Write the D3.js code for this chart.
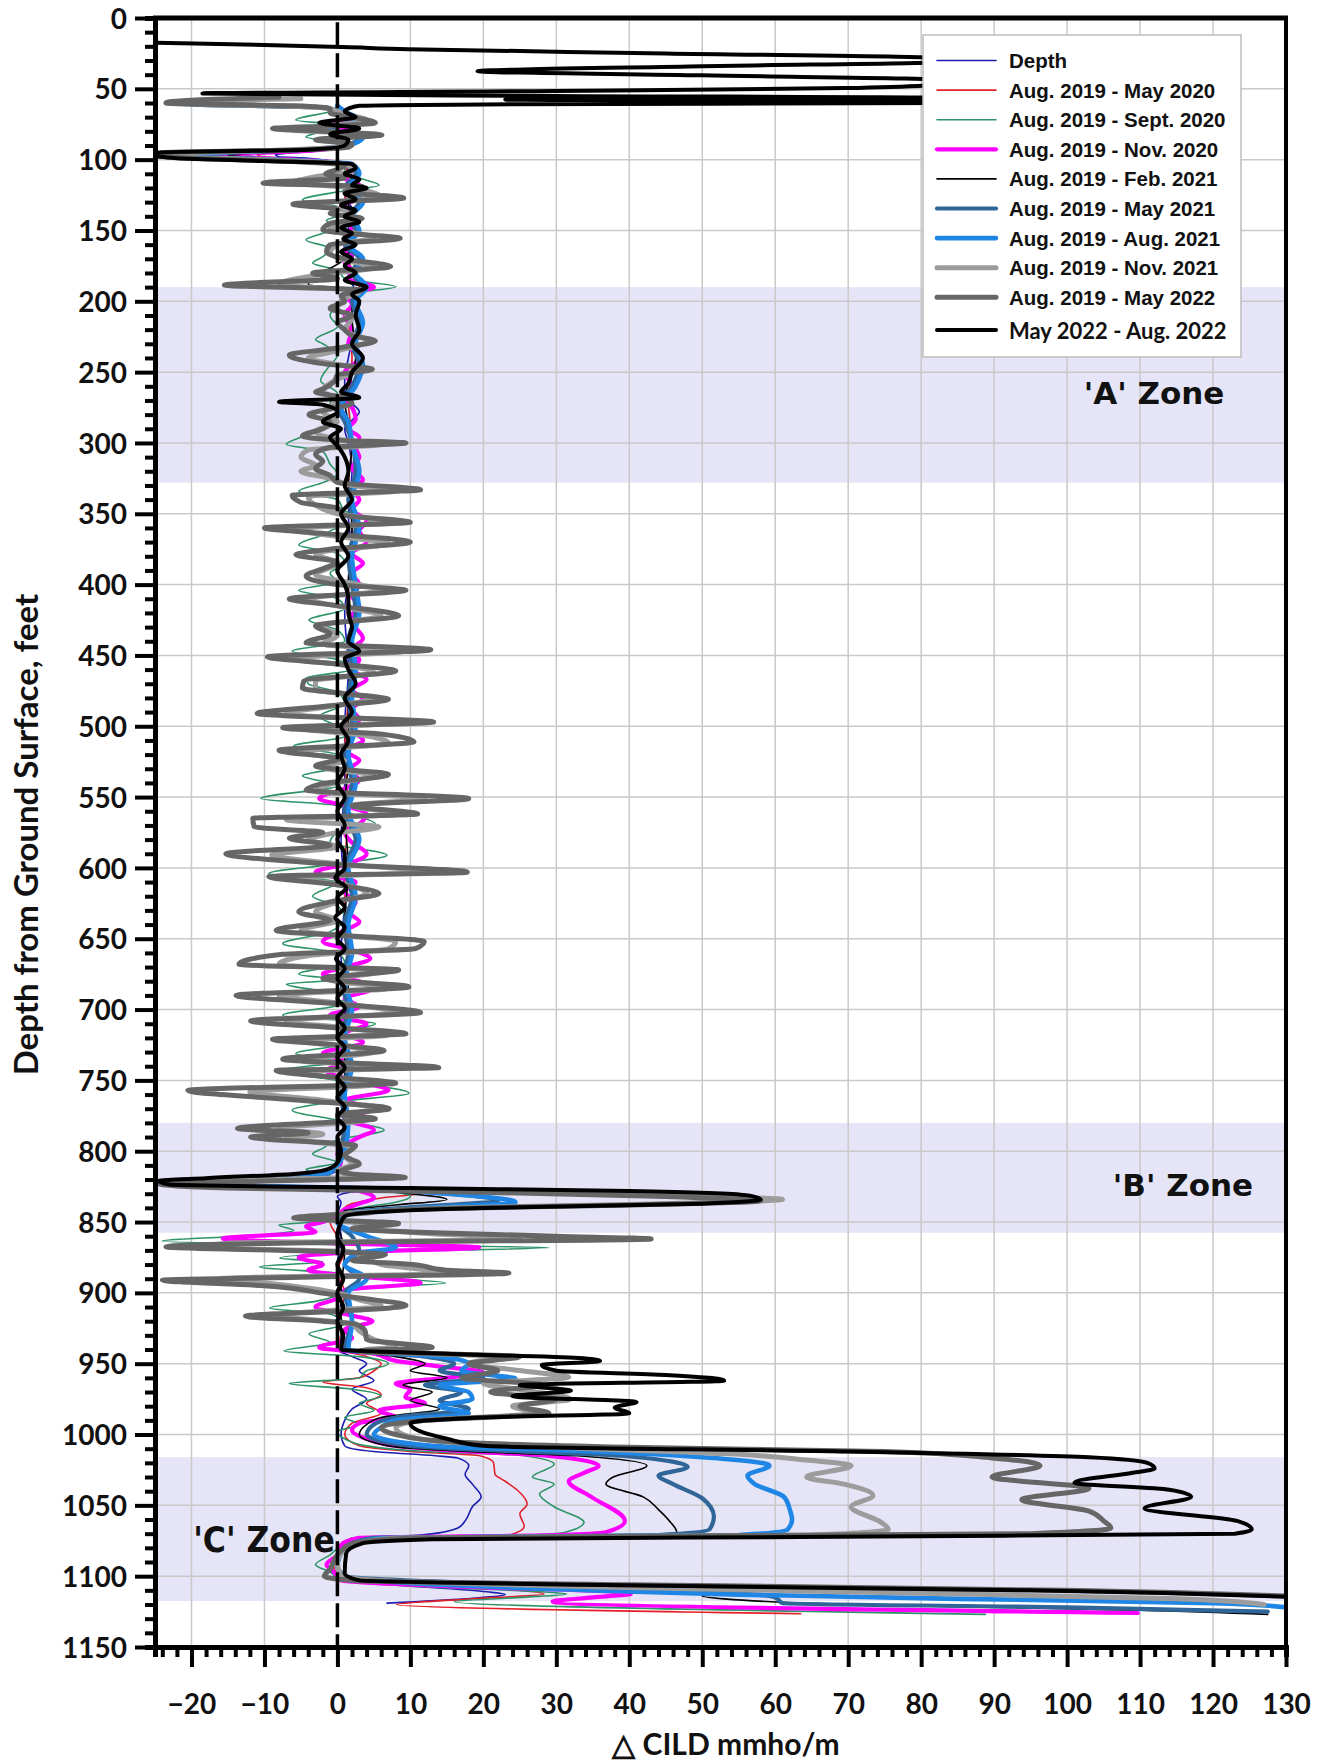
<!DOCTYPE html>
<html><head><meta charset="utf-8">
<script src="https://cdn.jsdelivr.net/npm/d3@7"></script>
<style>body{margin:0;background:#fff;} svg{display:block;}</style>
</head><body><svg id="c" width="1325" height="1760"></svg>
<script>
// ---------- DATA (depth ft, ΔCILD mmho/m) ----------
const xTicks = [-20,-10,0,10,20,30,40,50,60,70,80,90,100,110,120,130];
const yTicks = [0,50,100,150,200,250,300,350,400,450,500,550,600,650,700,750,800,850,900,950,1000,1050,1100,1150];
const zoneNames = ["'A' Zone","'B' Zone","'C' Zone"];
const zoneTop = [190, 780, 1016];
const zoneBottom = [328, 857.6, 1117.5];

const seriesNames = ["Depth","Aug. 2019 - May 2020","Aug. 2019 - Sept. 2020","Aug. 2019 - Nov. 2020","Aug. 2019 - Feb. 2021","Aug. 2019 - May 2021","Aug. 2019 - Aug. 2021","Aug. 2019 - Nov. 2021","Aug. 2019 - May 2022","May 2022 - Aug. 2022"];

const depthSeries = [[64,0.5],[70,1],[78,0],[85,1.5],[91,0.5],[94,-3],[96.5,-8.5],[98,-8],[99,-4],[101,-1],[104,1],[115,2],[125,1],[135,2],[150,1.5],[165,2],[180,1.5],[195,2.5],[210,1.5],[225,2],[240,1.5],[255,1],[265,1],[272,2],[278,3],[284,2],[290,1],[300,1.5],[320,2],[350,1.5],[380,2],[420,1],[460,1.5],[500,1],[540,1],[580,0.5],[620,1],[660,0.5],[700,1],[740,0.5],[780,1],[810,0.5],[818,-2],[822,-15],[824,-8],[826,8],[828,3],[832,0],[836,0.5],[845,0],[860,0.5],[880,0],[900,0.5],[940,0],[945,2],[950,4],[955,3],[962,5],[968,2],[975,4],[982,2],[990,1],[1000,0.5],[1008,1],[1012,5],[1015,13.4],[1016.5,16.5],[1022,18],[1028,17.5],[1035,18.5],[1044,19.7],[1051,18.5],[1061,17.5],[1066,16.5],[1071,11.4],[1073,2.2],[1079,0.7],[1093,0.2],[1100,0.7],[1105,5.3],[1111,20.5],[1113,23],[1116,17.5],[1119,6.8]];

const may2020 = [[64,0.5],[72,1.5],[80,0],[88,1],[92,0],[94,-4],[96.5,-11],[98,-10],[100,-4],[103,1],[115,1.5],[130,1],[150,2],[170,1.5],[190,3],[210,1.5],[240,2],[270,1.5],[300,2],[330,1.5],[360,2],[400,1.5],[440,2],[480,1.5],[520,1],[560,1.5],[600,1],[640,1],[680,1.5],[720,1],[760,1],[800,0.5],[815,-1],[820,-8],[823,-22],[826,0],[829,12.6],[833,6],[837,2],[842,0.5],[850,-1],[860,0],[870,1],[885,0],[900,1],[920,0],[940,0.5],[945,4],[950,6],[955,5],[960,3],[963,-2],[967,4],[972,6],[978,4],[985,6],[992,2],[1000,1],[1008,3],[1012,10],[1015,19.5],[1020,21.4],[1028,21.6],[1033,23],[1039,24.6],[1049,26],[1056,25],[1065,25.6],[1071,23.6],[1073,2],[1080,0.5],[1093,-0.5],[1100,0.5],[1105,8],[1111,27],[1112.5,28.3],[1115,22],[1118,12],[1120,8.1],[1126.5,63.5]];

const sept2020 = [[62,0],[66,-1],[72,-5.7],[76,1],[80,-2],[84,-4.3],[88,0],[91,0.5],[94,-5],[96,-13],[98,-11],[100,-5],[103,1],[108,1],[113,3],[118,5.7],[122,1],[128.5,-4.8],[133,0],[138,1],[143,-1.5],[147.7,0],[152,-2],[156.7,-4.3],[162.6,-1],[168.5,-2],[173,-3.4],[178,0],[184,1],[189.7,8],[195,1],[202,0],[210,-1],[218,0],[227,-3],[230,-2],[238,0],[245,-1],[256,-2.3],[265,0],[272,-1],[280,0],[290,-2],[296,-5],[301,-7],[306,-2],[315,-1],[322,0],[328,-2],[334,-5.3],[340,0],[348,1],[355,4.8],[360,0],[365,-2],[372,-5.3],[378,0],[385,1],[392,-1],[398,0],[404,-5.3],[410,0],[417,1],[425,-3.9],[432,0],[440,1],[447,-6.2],[453,0],[460,2],[466,-4.3],[470,-4],[476,0],[484,1],[493,-2.5],[500,0],[507,1],[514,-6],[520,0],[528,1],[535,-4.8],[542,0],[551,-10.5],[556,0],[562,2],[569,5.2],[575,0],[582,-1],[591,6.8],[597,0],[604,-9.4],[610,0],[620,-3.4],[627,0],[635,1],[645,-1],[653.5,-7.5],[660,0],[667,1],[675,-5.3],[679,0],[682,-7],[690,1],[697,0],[704,-7.5],[710,5.2],[717,0],[724,1],[731,-5.7],[737,0],[743,-8.2],[750,0],[759,9.8],[765,0],[771,-6.2],[778,0],[785,6.4],[792,0],[798,-2],[802,-3.4],[808,0],[813,-4.3],[817,-1],[820,-8],[822,-24],[825,-5],[828,6],[832,10],[836,8],[840,3],[845,1],[850,-3],[852,-8],[856,-6],[859,-10],[863.5,-24],[866,0],[868,29],[871,5],[875.6,-7.9],[878,-2],[881.5,-10.7],[886,0],[889,5],[893,14.8],[897,2],[902,0],[906,-3],[910.6,-9.3],[915,-1],[922,1],[929,-3.9],[935,-1],[941,-7.3],[945,3],[950,7],[955,4],[960,3],[964,-6.6],[968,2],[973,6],[978,3],[983,5],[988,1],[993,3],[998,0],[1003,1],[1008,4],[1012,12],[1015,25.6],[1021,29.7],[1030,26.7],[1035,29.7],[1042,27.7],[1051,29.7],[1062,33.8],[1069,31.2],[1071,26],[1073,2],[1078,0.5],[1085,-1],[1092,-3],[1097,-1],[1103,0.5],[1107,10],[1111,28],[1112.5,31.4],[1115,25],[1118,16],[1127,88.8]];

const nov2020 = [[62,0],[66,1],[72,2],[76,-1],[80,2],[84,0],[88,1],[91,0],[94,-5],[96.5,-17],[98,-14],[100,-6],[103,1.5],[108,2],[113,1],[118,3],[123,1],[128,2.5],[133,0.5],[138,2],[143,1],[148,2],[153,1],[158,2.5],[163,1],[168,2],[173,1],[178,2],[184,1.5],[190,5],[195,1],[202,2],[210,1],[220,2],[230,1.5],[240,3],[250,1],[260,2],[268,1],[275,2],[283,2.5],[290,1.5],[296,3],[303,2.5],[310,3],[318,2],[326,3.5],[333,2],[340,3],[347,2],[355,4],[362,3],[370,4],[378,2],[385,3.5],[392,2],[400,3],[408,2],[415,3],[422,2],[430,2.5],[438,3.5],[446,2],[453,3],[460,2],[467,4],[474,2],[481,3.5],[488,2],[495,3],[502,2],[510,3.5],[517,1],[524,3],[531,1.5],[538,3],[544,1],[551,-2.5],[556,1],[562,4],[569,3],[575,1],[582,2],[590,4],[597,1.5],[603,-3],[610,2.5],[617,1],[624,2.5],[631,1.5],[638,3],[644,1],[652,-2],[658,2],[664,4.5],[670,1],[675,-2],[680,3],[686,4.5],[692,1],[698,3],[704,-1],[710,4],[717,1],[723,3.5],[731,-2],[737,1],[743,-1.5],[750,2],[757,7],[764,1],[770,5],[777,1],[785,5],[790,3],[796,1],[802,0],[808,0.5],[814,-1],[818,-3],[821,-12],[823,-24],[825,-10],[828,3],[833,5],[837,3],[841,1],[846,0],[850,-2],[853,-4.3],[857,-3],[861.6,-15.7],[865,0],[868,19.4],[871,3],[875,-5.3],[880,-2],[884,-4],[888,2],[893,11.4],[898,1],[904,0],[910,-3],[916,2],[920,4.8],[926,1],[932,2],[938.5,-2.5],[943,5],[948,8],[952,14],[956,20],[960,14.8],[964,8],[968,10],[973.5,9.3],[978,12],[983,5.7],[988,8],[992,3],[997,2],[1003,4],[1008,8],[1012,18],[1015,28.7],[1022,35.8],[1027,33.8],[1033,31.7],[1044,34.8],[1061,39.4],[1069,36.8],[1071,30],[1073,3],[1078,0.5],[1085,0],[1092,-1.5],[1097,-0.5],[1103,0.5],[1107,15],[1111,38],[1112.5,40.2],[1115,35],[1118,29.5],[1126,109.7]];

const feb2021 = [[64,0.5],[72,2],[80,-1],[88,1.5],[92,0.5],[94,-5],[96.5,-15],[98,-13],[100,-6],[103,1.5],[115,2],[130,1.5],[150,2.5],[170,1],[188,-4],[192,2],[210,2],[240,2.5],[270,1],[300,2],[330,1.5],[360,2],[400,1.5],[440,2],[480,1.5],[520,1.5],[560,1],[600,1.5],[640,1],[680,1.5],[720,1],[760,1],[800,0.5],[815,-1],[820,-10],[823,-24],[826,0],[830,10],[834,15],[838,8],[842,1],[850,0],[870,1],[900,0.5],[940,0.5],[945,8],[950,12],[955,10],[960,15],[965,9],[970,13],[976,10],[982,14],[988,6],[993,4],[1000,3],[1008,7],[1012,18],[1015,32.8],[1022,42.4],[1030,37.8],[1035,36.8],[1044,41.9],[1053,44],[1061,45.5],[1069,46.5],[1071,40],[1073,4],[1080,1],[1093,0],[1100,1],[1105,15],[1110,45],[1112,52],[1114,50],[1116,53],[1120,70],[1124,110],[1127,127.5]];

const may2021 = [[60,-23.5],[61.5,-18],[63,-3],[66,0.5],[72,2.5],[78,-1],[84,3],[90,1],[93,-5],[96.5,-20],[98,-18],[100,-8],[103,1.5],[110,2.5],[120,1],[130,3],[140,1.5],[150,2.5],[160,1],[170,3],[180,2],[190,3.5],[200,2],[215,3],[230,2],[245,3],[260,2],[275,0],[285,1],[300,2],[320,2.5],[340,1.5],[360,2.5],[380,1.5],[400,2],[420,2.5],[440,1.5],[460,2],[480,1.5],[500,2],[520,1],[540,2],[560,1],[580,2.5],[600,1],[620,2],[640,1],[660,1.5],[680,0.5],[700,1.5],[720,0.5],[740,1.5],[760,0.5],[780,1],[800,0.5],[815,-1],[820,-12],[823,-24],[826,0],[830,15],[835,22],[839,12],[843,2],[850,0],[860,2],[870,3],[880,1],[890,3],[900,1],[920,2],[940,1],[945,12],[950,16],[955,14],[960,20],[965,12],[970,17],[976,14],[982,18],[988,8],[993,5],[1000,4],[1008,10],[1012,25],[1015,38.9],[1023,48],[1029,44],[1035,46],[1045,50],[1058,51.6],[1067,51],[1071,44],[1073,5],[1080,1],[1093,0],[1100,1],[1105,20],[1109,45],[1112,55],[1115,60],[1119,61],[1122,100],[1125,127.5]];

const aug2021 = [[62,0],[66,1],[72,3],[78,-1.5],[84,3.5],[90,1.5],[93,-5],[96.5,-22],[98,-20],[100,-9],[103,2],[110,3],[120,1.5],[130,3.5],[140,2],[150,3],[160,1.5],[170,3.5],[180,2.5],[190,4],[200,2.5],[215,3.5],[230,2.5],[245,3.5],[260,2.5],[275,0.5],[285,1.5],[300,2],[320,3],[340,2],[360,3],[380,2],[400,2.5],[420,3],[440,2],[460,2.5],[480,2],[500,2.5],[520,1.5],[540,2.5],[560,1.5],[580,3],[600,1.5],[620,2.5],[640,1.5],[660,2],[680,1],[700,2],[720,1],[740,2],[760,1],[780,1.5],[800,1],[815,-1],[820,-14],[823,-24],[826,2],[830,15],[836,24.4],[840,12],[844,2],[850,0],[860,4],[868,8],[872,3],[880,1],[890,4],[900,1.5],[920,2],[940,1.5],[945,14],[950,18],[955,17],[960.7,24.4],[965,14],[970,18],[975,18.5],[980,14],[985,18],[990,8],[995,6],[1000,5],[1008,13],[1012,35],[1016,50],[1022,59.2],[1029,56.2],[1035,57.2],[1044,61.2],[1053,62],[1060,62.3],[1067,61.7],[1071,55],[1073,6],[1080,1],[1093,0],[1100,1],[1105,10],[1110,35],[1113,55],[1116,85],[1119,120],[1122,130]];

const nov2021 = [[57,-5],[60,-22],[62,-8],[64,-1],[68,1],[72,4],[76,-1],[79,-6],[82,4],[86,-1],[90,2],[93,-6],[96,-24],[98,-23],[100,-10],[103,1],[108,2],[112,-3],[116,-6],[120,2],[127,6],[131,-3],[136,1],[142,2],[148,-1],[155,5],[160,0],[166,-1],[171,1],[176,5],[181,-2],[188,-8],[193,3],[198,1],[205,0],[212,2],[220,1],[228,4],[235,0],[240,-4],[248,3],[255,0],[263,-2],[270,0],[278,-2],[285,0],[292,-3],[298,1],[301,6],[305,-4],[310,-5],[316,-3],[320,-5],[325,-1],[330,2],[334,8],[338,-4],[344,-3],[350,0],[356,7],[361,-6],[366,0],[371,7],[378,-3],[385,0],[393,-3],[398,1],[404,6],[410,-4],[416,1],[422,6],[429,-2],[436,0],[442,-2],[447,9],[452,-6],[457,1],[462,5],[468,-3],[474,-3],[480,5],[486,-1],[491,-7],[497,9],[502,-4],[506,3],[512,7],[518,-5],[524,1],[529,-2],[535,5],[541,-1],[546,-3],[551,12],[556,2],[562,8],[566,-7],[571,5.7],[576,-1],[580,-4],[585,0],[591,-9],[597,0],[603,12],[607,-6],[612,1],[618,4],[624,0],[631,-3],[637,0],[644,-5],[652,8],[657,7],[662,-4],[668,-8],[673,6],[679,-1],[685,7],[690,-8],[696,1],[702,8],[708,-7],[713,1],[718,7],[722,-5],[726,1],[730,5],[736,-5],[741,9],[744,-5],[749,1],[753,5],[758,-12],[764,-2],[770,5],[775,1],[778,4],[784,-8],[788,-2],[791,-7],[797,2],[803,1],[809,2],[814,0],[818,3],[820,-10],[822.5,-24.5],[826,-5],[829,25],[832,50],[834,61],[837,45],[840,15],[843,4],[847,-3],[851,3],[855,5],[858,12],[862,25],[865,-15],[868,-18],[871,2],[875,4],[880,6],[886,15],[890,-16],[894,-8],[900,0],[905,3],[909,6],[916,-8],[922,2],[927,3],[933,5],[938,8],[941,3],[945,22],[950,18],[955,25.3],[959.6,31.7],[964,20],[969,26],[975,32],[980,24],[985,27],[990,12],[995,8],[1000,9],[1005,14],[1010,35],[1014,55],[1018,64.3],[1022,70.4],[1030,64.3],[1035,69.4],[1043,73.4],[1051,70.4],[1062,74.5],[1067,75.5],[1071,65],[1073,8],[1078,2],[1090,0],[1100,0.5],[1104,10],[1108,40],[1112,80],[1116,115],[1120,127]];

const may2022 = [[56,-8],[58,-20],[60,-23.5],[62,-6],[64,-1],[67,-1],[70,2],[74,5.2],[76,0],[78,-8.9],[80,-2],[82.6,6.1],[86,-3],[89,2],[91,1.6],[93,-5],[95,-24],[97,-25],[99,-20],[101,-8],[104,1],[107,0],[110,-1.6],[113,1],[116.5,-10.2],[119,3.4],[123,1],[127,9.1],[131.4,-6.1],[135,0],[138,-1],[141.5,3.4],[145,-1],[149.7,-2],[152,1],[155.5,8.6],[160,-1],[165,-1.5],[170,1],[175.5,7.3],[180,-3.4],[184,0],[188.5,-15.5],[192,3.4],[196,0.5],[200,1],[205,-1],[210,2],[215,0],[220,1],[224,2],[228,5.2],[233,0],[238,-6.6],[244,-2],[248,4.8],[252,0],[257,-0.5],[262,-2],[264,-3],[268,1],[272,2],[276,-1],[280,-3.9],[285,-1],[290,-2],[295,-4.8],[298,0],[300,9.4],[303,-1],[308,-3],[313,-2],[318,-3],[323,-1],[328,0],[333,11.4],[337,-6.2],[342,-5],[346,0],[351,1],[356,10],[360,-10],[364,-1.6],[370,10],[375,-1],[379,-5.7],[384,0],[388,-1.6],[394,-4.3],[400,0],[404,9.4],[410,-6.6],[415,0.2],[422,8.4],[429,-3],[435,-1],[441,-4.3],[446,12.8],[451,-9.6],[456,0],[461,8],[468,-4.6],[473,-4.8],[477,1],[481,7],[486,-2],[491,-11],[497,13.2],[501,-7.5],[505,4.8],[511,10.5],[517,-8],[523,0.2],[528,-3],[534,7],[541,-2.5],[545,-4.3],[551,18],[556,2],[562,11],[565,-11.6],[571,-11.4],[575,-2],[579,-6.6],[584,-1],[590,-15.3],[597,-1.6],[603,17.8],[606,-9.4],[612,0],[618,5.7],[624,-1],[631,-5.3],[637,-1],[644,-8.4],[652,11.9],[657,10.7],[661,-7.5],[668,-13.5],[672,8.4],[678,-2],[684,9.8],[690,-13.9],[696,0],[702,11.4],[708,-11.9],[713,0],[717,9.4],[721,-8.9],[725,0],[729,6.4],[735,-7.5],[741,13.9],[743,-8.4],[748,0],[752,8],[757,-20.5],[764,-5.2],[770,7.1],[774,0],[777,5.2],[784,-13.7],[787,-4],[790,-11.9],[796,2.5],[803,1],[809,3],[814,0.5],[816,2],[818.5,9.3],[821,-10],[823,-24.5],[826,-15],[829,20],[832,45],[835,58],[838,40],[841,10],[844,3],[847,-6],[851,8.4],[854.7,2],[857,10],[860,30],[862,43],[864,5],[867.5,-23.5],[871,0],[873,6.6],[877,2],[880,10.3],[884,15],[886,23.5],[889,-5],[891,-24],[895,-10],[901,-1],[903.6,3],[909,9.4],[913,0],[916.4,-12.6],[920,-2],[922,2.5],[927,3.8],[933,4],[938.6,13],[941,3],[945,25],[950,18],[955,22],[960,17],[965,28],[970,21],[975,30],[980,25],[985,29],[990,12],[995,6],[1000,8],[1005,15],[1009,40],[1012,75],[1016.5,89.7],[1022,96.3],[1030,89.7],[1038,103],[1046,93.8],[1054,103],[1061,105],[1066,106],[1070,95],[1073,10],[1077,2],[1085,0],[1095,-1],[1100,-1.8],[1103,2],[1106,40],[1110,100],[1114,130]];

const aug2022 = [[17.5,-24.8],[19,-10],[20.5,0.8],[22,9.7],[25,45],[28.5,84],[31,84],[34,50],[37.6,19.2],[40.5,50],[43.8,84],[46,84],[49.5,69.6],[51.5,30],[53.3,-18.5],[55,30],[56.3,84],[57.6,23],[59,84],[60,84],[61,20],[62,3],[64,1.5],[66,1],[70,2.5],[74,-2.5],[78,3],[82,-1],[86,1.5],[90,1],[93,-4],[95,-24.8],[97,-25],[99,-22],[101,-10],[103,2],[106,2.5],[110,1],[114,3],[118,2],[120,4],[124,1],[128,2.5],[132,0.5],[136,2.5],[140,1],[144,3],[148,0.5],[152,2],[156,0.8],[160,2.5],[165,0.5],[170,2],[175,1],[180,2.5],[185,1],[190,4],[195,2],[200,3],[210,2.5],[220,3],[230,2],[240,3.5],[250,2],[258,1.5],[264,0.5],[268,3],[271,-8],[273,-2],[278,0],[285,-2],[290,0.5],[296,-1],[302,0],[310,1],[320,1.5],[330,1],[340,2],[350,0.5],[360,1.5],[370,0.5],[380,1.5],[390,0],[400,1],[410,1.5],[420,1.5],[430,2],[440,1.5],[447,3],[452,1],[460,1.5],[470,2.5],[480,1],[490,2],[500,0.5],[510,1.5],[520,0.5],[530,1],[540,0],[550,1],[560,0],[570,1],[580,0],[590,1],[600,1],[607,-0.3],[614,1.2],[621,0],[628,1],[635,-0.3],[642,1],[650,0],[657,1],[664,-0.2],[671,1],[678,0],[685,1],[692,0],[699,1],[706,0],[713,1],[720,0],[727,1],[734,0],[741,1],[748,0],[755,1],[762,0],[769,1],[776,0],[783,1],[790,0],[800,0.5],[808,0],[813,-1.5],[816,-6],[819,-18],[821,-24.5],[823.5,-23],[826,10],[828,40],[831,56],[834,58],[837,50],[840,20],[843,5],[846,1],[850,0.5],[860,0],[870,0.8],[880,0],[890,0.8],[900,0],[910,0.8],[920,0],[930,0.8],[940,0.5],[943,15],[946,33],[948,36],[951,28],[955,30],[958,45],[962,53],[965,25],[969,32],[973,24],[977,41],[981,38],[985,40],[988,20],[992,10],[997,11],[1003,15],[1008,20],[1012,70],[1016,103],[1020,111],[1024,112],[1027,109],[1034,101],[1039,114],[1044,117],[1052,110.6],[1061,123.3],[1067,125.3],[1070,123],[1072,74],[1074,13],[1077,3.3],[1084,1.2],[1098,1],[1103,3],[1106,33.8],[1110,94.8],[1114.5,130]];

const seriesData = [depthSeries, may2020, sept2020, nov2020, feb2021, may2021, aug2021, nov2021, may2022, aug2022];
const seriesColors = ["#1c1cb0","#e3202a","#2e9468","#ff00ff","#000000","#2f6597","#1f86e6","#9c9c9c","#666666","#000000"];
const seriesWidths = [1.6,1.6,1.6,4.2,1.6,4.2,4.6,5,5,4];

// ---------- CHART ----------
const svg = d3.select("#c");
const L = 155, R = 1286, T = 18, B = 1647;
const x = d3.scaleLinear().domain([-25,130]).range([L,R]);
const y = d3.scaleLinear().domain([0,1150]).range([T,B]);
const lblFont = "Lato, 'Open Sans', sans-serif";

// zone bands
svg.append("g").selectAll("rect").data(zoneTop).join("rect")
  .attr("x", L).attr("width", R-L)
  .attr("y", d=>y(d)).attr("height", (d,i)=>y(zoneBottom[i])-y(d))
  .attr("fill", "#e5e5f7");

// gridlines
const grid = svg.append("g").attr("stroke","#c9c9c9").attr("stroke-width",1.5);
grid.selectAll(".v").data(xTicks.filter(v=>v!==0 && v!==130)).join("line")
  .attr("x1",d=>x(d)).attr("x2",d=>x(d)).attr("y1",T).attr("y2",B);
grid.selectAll(".h").data(yTicks.filter(v=>v>0 && v<1150)).join("line")
  .attr("y1",d=>y(d)).attr("y2",d=>y(d)).attr("x1",L).attr("x2",R);

// series
svg.append("defs").append("clipPath").attr("id","pc")
  .append("rect").attr("x",L).attr("y",T).attr("width",R-L).attr("height",B-T);
const line = d3.line().x(d=>x(d[1])).y(d=>y(d[0])).curve(d3.curveMonotoneY);
const sg = svg.append("g").attr("clip-path","url(#pc)");
seriesData.forEach((s,i)=>{
  sg.append("path").attr("d", line(s)).attr("fill","none")
    .attr("stroke", seriesColors[i]).attr("stroke-width", seriesWidths[i])
    .attr("stroke-linejoin","round").attr("stroke-linecap","round");
});

// zero dashed line
svg.append("line").attr("x1",x(0)).attr("x2",x(0)).attr("y1",y(3)).attr("y2",B)
  .attr("stroke","#000").attr("stroke-width",3.5).attr("stroke-dasharray","24,7");

// zone labels
const zx = [1154, 1183, 264], zy = [393, 1185, 1540];
const zf = ["'DejaVu Sans', Verdana, sans-serif","'DejaVu Sans', Verdana, sans-serif","'Liberation Sans Narrow','DejaVu Sans Condensed', sans-serif"];
const zs = [31, 31, 35];
zoneNames.forEach((n,i)=>{
  svg.append("text").attr("x",zx[i]).attr("y",zy[i]).attr("text-anchor","middle")
    .attr("dominant-baseline","central").attr("font-family",zf[i]).attr("font-weight","bold")
    .attr("font-size",zs[i]).attr("fill","#111").text(n);
});

// axes
const fmt = d3.format("d");
const yMaj = svg.append("g").attr("transform",`translate(${L},0)`)
  .call(d3.axisLeft(y).tickValues(yTicks).tickFormat(fmt).tickSize(20).tickSizeOuter(0).tickPadding(8));
const yMin = svg.append("g").attr("transform",`translate(${L},0)`)
  .call(d3.axisLeft(y).tickValues(d3.range(10,1150,10).filter(v=>v%50!==0)).tickSize(10).tickFormat(""));
const xMaj = svg.append("g").attr("transform",`translate(0,${B})`)
  .call(d3.axisBottom(x).tickValues(xTicks).tickFormat(fmt).tickSize(20).tickSizeOuter(0).tickPadding(27));
const xMin = svg.append("g").attr("transform",`translate(0,${B})`)
  .call(d3.axisBottom(x).tickValues(d3.range(-24,130,2).filter(v=>v%10!==0)).tickSize(10).tickFormat(""));
[yMaj,yMin,xMaj,xMin].forEach(g=>{
  g.selectAll(".tick line").attr("stroke","#000").attr("stroke-width",4);
  g.select(".domain").attr("stroke","#000").attr("stroke-width",5);
  g.selectAll("text").attr("font-family",lblFont).attr("font-weight","bold")
    .attr("font-size",28).attr("fill","#111");
});
yMaj.selectAll("text").attr("dy","0.36em");
// frame top & right
svg.append("line").attr("x1",L-2).attr("x2",R+2).attr("y1",T).attr("y2",T).attr("stroke","#000").attr("stroke-width",5);
svg.append("line").attr("x1",R).attr("x2",R).attr("y1",T).attr("y2",B).attr("stroke","#000").attr("stroke-width",4);

// axis titles
svg.append("text").attr("transform",`translate(25,${(T+B)/2 + 2}) rotate(-90)`)
  .attr("text-anchor","middle").attr("dominant-baseline","central")
  .attr("font-family",lblFont).attr("font-weight","bold").attr("font-size",33).attr("fill","#111")
  .text("Depth from Ground Surface, feet");
svg.append("text").attr("x",726).attr("y",1743).attr("text-anchor","middle").attr("dominant-baseline","central")
  .attr("font-family",lblFont).attr("font-weight","bold").attr("font-size",30).attr("fill","#111")
  .text("△ CILD mmho/m");

// legend
const lg = svg.append("g");
lg.append("rect").attr("x",923).attr("y",35).attr("width",318).attr("height",322)
  .attr("fill","#fff").attr("stroke","#bdbdbd").attr("stroke-width",1.5);
seriesNames.forEach((n,i)=>{
  const ly = i<9 ? 60.5 + i*29.6 : 330;
  lg.append("line").attr("x1",937).attr("x2",996).attr("y1",ly).attr("y2",ly)
    .attr("stroke",seriesColors[i]).attr("stroke-width",seriesWidths[i]).attr("stroke-linecap","round");
  lg.append("text").attr("x",1009).attr("y",ly).attr("dominant-baseline","central")
    .attr("font-family", i<9 ? "'Liberation Sans', Arial, sans-serif" : lblFont)
    .attr("font-weight","bold").attr("font-size", i<9 ? 20.5 : 22).attr("fill","#111").text(n);
});
</script></body></html>
